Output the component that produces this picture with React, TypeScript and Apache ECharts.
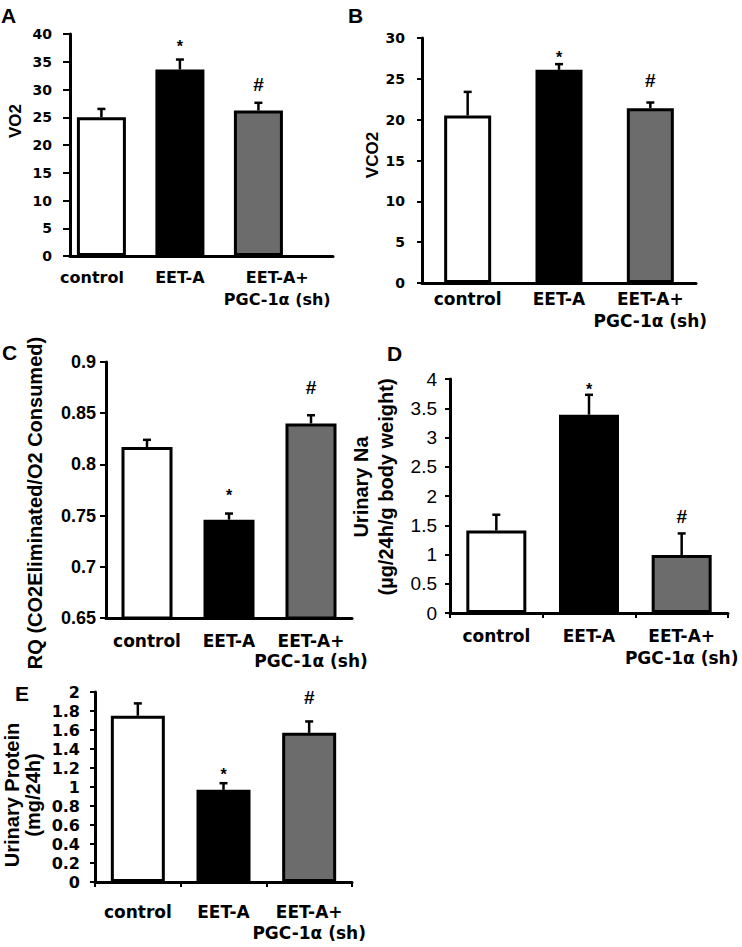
import React, { useEffect, useRef } from "react";
import * as echarts from "echarts";

// ---------- data ----------
const CATEGORIES = ["control", "EET-A", "EET-A+\nPGC-1α (sh)"];
const MARKERS = ["", "*", "#"];

const VO2 = [25.0, 33.6, 26.2];
const VO2_SEM = [1.5, 1.8, 1.4];

const VCO2 = [20.5, 26.1, 21.4];
const VCO2_SEM = [2.9, 0.7, 0.7];

const RQ = [0.817, 0.746, 0.84];
const RQ_SEM = [0.007, 0.006, 0.008];

const URINARY_NA = [1.41, 3.39, 0.99];
const URINARY_NA_SEM = [0.27, 0.34, 0.37];

const URINARY_PROTEIN = [1.75, 0.97, 1.57];
const URINARY_PROTEIN_SEM = [0.13, 0.07, 0.12];

// ---------- style ----------
const BAR_COLORS = ["#ffffff", "#000000", "#6c6c6c"];
const ARIAL = "'Liberation Sans', Arial, sans-serif";
const DEJAVU = "'DejaVu Sans', sans-serif";

type Panel = {
  letter: string;
  letterPos: [number, number];
  values: number[];
  sem: number[];
  grid: { left: number; top: number; width: number; height: number };
  yMin: number;
  yMax: number;
  yInterval: number;
  valueX?: { min: number; max: number; labelPos: number[] };
  barWidth: number;
  tickFont: { family: string; size: number; weight: string };
  tickMargin: number;
  tickLen: number;
  catSize: number;
  catLH: number;
  catMargin: number;
  xTicks: boolean;
  gaps: number[];
  title: string;
  titlePos: [number, number];
  titleSize: number;
  titleLH?: number;
};

const PANELS: Panel[] = [
  {
    letter: "A",
    letterPos: [1, 5],
    values: VO2,
    sem: VO2_SEM,
    grid: { left: 70, top: 34, width: 263, height: 222 },
    yMin: 0,
    yMax: 40,
    yInterval: 5,
    valueX: { min: -0.4, max: 2.95, labelPos: [-0.12, 1.0, 2.24] },
    barWidth: 49,
    tickFont: { family: DEJAVU, size: 14, weight: "bold" },
    tickMargin: 18,
    tickLen: 7,
    catSize: 16,
    catLH: 22,
    catMargin: 10,
    xTicks: false,
    gaps: [0, 17, 18],
    title: "VO2",
    titlePos: [15, 121],
    titleSize: 17,
  },
  {
    letter: "B",
    letterPos: [348, 5],
    values: VCO2,
    sem: VCO2_SEM,
    grid: { left: 422, top: 38, width: 274, height: 245 },
    yMin: 0,
    yMax: 30,
    yInterval: 5,
    barWidth: 47,
    tickFont: { family: DEJAVU, size: 14, weight: "bold" },
    tickMargin: 17,
    tickLen: 5,
    catSize: 17,
    catLH: 22,
    catMargin: 5,
    xTicks: false,
    gaps: [0, 11, 22],
    title: "VCO2",
    titlePos: [372, 155],
    titleSize: 17,
  },
  {
    letter: "C",
    letterPos: [2, 342],
    values: RQ,
    sem: RQ_SEM,
    grid: { left: 106, top: 362, width: 246, height: 256 },
    yMin: 0.65,
    yMax: 0.9,
    yInterval: 0.05,
    barWidth: 51,
    tickFont: { family: ARIAL, size: 18, weight: "bold" },
    tickMargin: 10,
    tickLen: 6,
    catSize: 17,
    catLH: 20,
    catMargin: 13,
    xTicks: false,
    gaps: [0, 22, 28],
    title: "RQ (CO2Eliminated/O2 Consumed)",
    titlePos: [35, 503],
    titleSize: 20,
  },
  {
    letter: "D",
    letterPos: [387, 343],
    values: URINARY_NA,
    sem: URINARY_NA_SEM,
    grid: { left: 450, top: 379, width: 278, height: 234 },
    yMin: 0,
    yMax: 4,
    yInterval: 0.5,
    barWidth: 60,
    tickFont: { family: ARIAL, size: 19, weight: "normal" },
    tickMargin: 13,
    tickLen: 5,
    catSize: 17,
    catLH: 22,
    catMargin: 12,
    xTicks: true,
    gaps: [0, 9, 17],
    title: "Urinary Na\n(µg/24h/g body weight)",
    titlePos: [373, 487],
    titleSize: 20,
    titleLH: 25,
  },
  {
    letter: "E",
    letterPos: [15, 683],
    values: URINARY_PROTEIN,
    sem: URINARY_PROTEIN_SEM,
    grid: { left: 95, top: 692, width: 257, height: 190 },
    yMin: 0,
    yMax: 2,
    yInterval: 0.2,
    barWidth: 54,
    tickFont: { family: DEJAVU, size: 16, weight: "bold" },
    tickMargin: 15,
    tickLen: 5,
    catSize: 17,
    catLH: 21,
    catMargin: 19,
    xTicks: true,
    gaps: [0, 13, 24],
    title: "Urinary Protein\n(mg/24h)",
    titlePos: [22, 795],
    titleSize: 20,
    titleLH: 21,
  },
];

function buildOption() {
  const grid: any[] = [];
  const xAxis: any[] = [];
  const yAxis: any[] = [];
  const series: any[] = [];
  const graphic: any[] = [];

  PANELS.forEach((p, i) => {
    grid.push({ ...p.grid, containLabel: false });

    const catLabel = {
      show: true,
      interval: 0,
      color: "#000",
      fontFamily: DEJAVU,
      fontWeight: "bold",
      fontSize: p.catSize,
      lineHeight: p.catLH,
      margin: p.catMargin,
      align: "center",
    };

    if (p.valueX) {
      const pos = p.valueX.labelPos;
      xAxis.push({
        gridIndex: i,
        type: "value",
        min: p.valueX.min,
        max: p.valueX.max,
        splitLine: { show: false },
        axisTick: { show: false },
        axisLine: { show: true, onZero: false, lineStyle: { color: "#000", width: 3 } },
        axisLabel: {
          ...catLabel,
          customValues: pos,
          formatter: (v: number) => {
            const k = pos.findIndex((q) => Math.abs(q - v) < 1e-9);
            return k >= 0 ? CATEGORIES[k] : "";
          },
        },
      });
    } else {
      xAxis.push({
        gridIndex: i,
        type: "category",
        data: CATEGORIES,
        boundaryGap: true,
        splitLine: { show: false },
        axisTick: {
          show: p.xTicks,
          inside: false,
          length: 5,
          lineStyle: { color: "#000", width: 2 },
        },
        axisLine: { show: true, onZero: false, lineStyle: { color: "#000", width: 3 } },
        axisLabel: catLabel,
      });
    }

    yAxis.push({
      gridIndex: i,
      type: "value",
      min: p.yMin,
      max: p.yMax,
      interval: p.yInterval,
      splitLine: { show: false },
      axisLine: { show: true, onZero: false, lineStyle: { color: "#000", width: 3 } },
      axisTick: { show: true, length: p.tickLen, lineStyle: { color: "#000", width: 2 } },
      axisLabel: {
        color: "#000",
        fontFamily: p.tickFont.family,
        fontSize: p.tickFont.size,
        fontWeight: p.tickFont.weight,
        margin: p.tickMargin,
      },
    });

    const barData = p.values.map((v, k) => ({
      value: p.valueX ? [k, v] : v,
      itemStyle: { color: BAR_COLORS[k], borderColor: "#000", borderWidth: 3 },
    }));

    series.push({
      type: "bar",
      xAxisIndex: i,
      yAxisIndex: i,
      barWidth: p.barWidth,
      data: barData,
      z: 2,
    });

    const gaps = p.gaps;
    series.push({
      type: "custom",
      xAxisIndex: i,
      yAxisIndex: i,
      clip: false,
      z: 3,
      data: p.values.map((v, k) => [k, v, p.sem[k]]),
      renderItem: (params: any, api: any) => {
        const k = params.dataIndex;
        const x = api.value(0);
        const y = api.value(1);
        const e = api.value(2);
        const base = api.coord([x, y]);
        const top = api.coord([x, y + e]);
        const half = 4;
        const marker = MARKERS[k];
        const children: any[] = [
          {
            type: "line",
            shape: { x1: base[0], y1: base[1], x2: top[0], y2: top[1] },
            style: { stroke: "#000", lineWidth: 2.5 },
          },
          {
            type: "line",
            shape: { x1: top[0] - half, y1: top[1], x2: top[0] + half, y2: top[1] },
            style: { stroke: "#000", lineWidth: 2.5 },
          },
        ];
        if (marker) {
          const isStar = marker === "*";
          children.push({
            type: "text",
            x: top[0],
            y: top[1] - gaps[k] + (isStar ? 4 : 0),
            style: {
              text: marker,
              align: "center",
              verticalAlign: "middle",
              fontFamily: ARIAL,
              fontWeight: "bold",
              fontSize: isStar ? 16 : 19,
              fill: "#000",
            },
          });
        }
        return { type: "group", children };
      },
    });

    graphic.push({
      type: "text",
      x: p.letterPos[0],
      y: p.letterPos[1],
      style: {
        text: p.letter,
        fontFamily: ARIAL,
        fontWeight: "bold",
        fontSize: 21,
        fill: "#000",
        verticalAlign: "top",
      },
    });

    graphic.push({
      type: "text",
      x: p.titlePos[0],
      y: p.titlePos[1],
      rotation: Math.PI / 2,
      style: {
        text: p.title,
        fontFamily: ARIAL,
        fontWeight: "bold",
        fontSize: p.titleSize,
        lineHeight: p.titleLH ?? p.titleSize + 2,
        fill: "#000",
        align: "center",
        verticalAlign: "middle",
      },
    });
  });

  return {
    animation: false,
    backgroundColor: "#ffffff",
    grid,
    xAxis,
    yAxis,
    series,
    graphic,
  };
}

export default function App() {
  const ref = useRef<HTMLDivElement>(null);
  useEffect(() => {
    if (!ref.current) return;
    const chart = echarts.init(ref.current, undefined, { renderer: "svg" });
    chart.setOption(buildOption() as any);
    return () => chart.dispose();
  }, []);
  return (
    <div
      ref={ref}
      style={{ position: "absolute", left: 0, top: 0, width: 742, height: 947, background: "#fff" }}
    />
  );
}
